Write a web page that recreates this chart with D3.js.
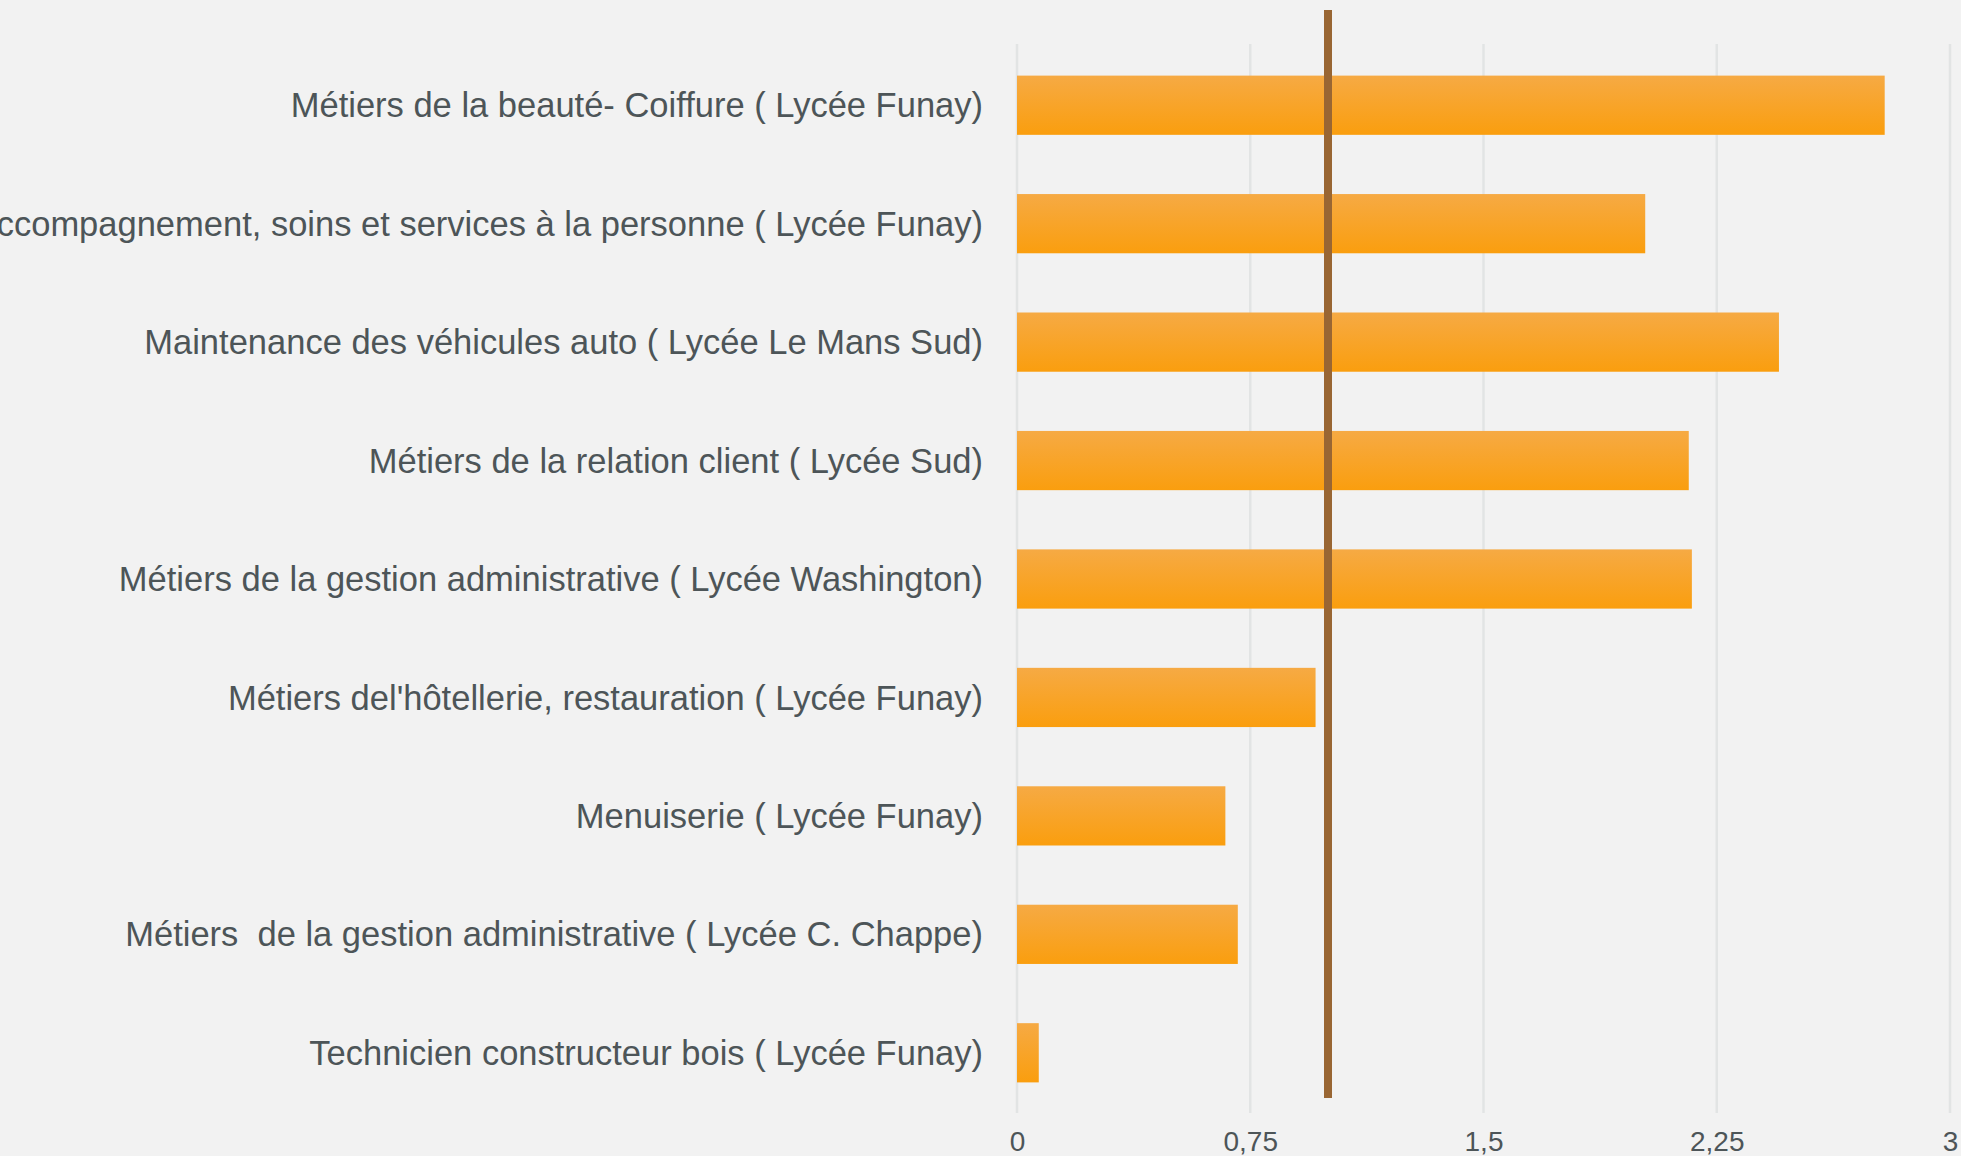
<!DOCTYPE html>
<html>
<head>
<meta charset="utf-8">
<script src="https://cdn.jsdelivr.net/npm/d3@7"></script>
<style>
  body { margin: 0; background: #f2f2f2; }
  svg { display: block; }
</style>
</head>
<body>
<div id="chart"></div>
<script>
// categories, top to bottom
var categories = [
  "Métiers de la beauté- Coiffure ( Lycée Funay)",
  "Accompagnement, soins et services à la personne ( Lycée Funay)",
  "Maintenance des véhicules auto ( Lycée Le Mans Sud)",
  "Métiers de la relation client ( Lycée Sud)",
  "Métiers de la gestion administrative ( Lycée Washington)",
  "Métiers del'hôtellerie, restauration ( Lycée Funay)",
  "Menuiserie ( Lycée Funay)",
  "Métiers  de la gestion administrative ( Lycée C. Chappe)",
  "Technicien constructeur bois ( Lycée Funay)"
]
var values = [2.79, 2.02, 2.45, 2.16, 2.17, 0.96, 0.67, 0.71, 0.07]
var tickValues = [0, 0.75, 1.5, 2.25, 3]
var tickLabels = ["0", "0,75", "1,5", "2,25", "3"]
var targetValue = 1

var width = 1961, height = 1156
var margin = {top: 44, right: 11, bottom: 43, left: 1017}

var svg = d3.select("#chart")
  .append("svg")
    .attr("width", width)
    .attr("height", height)

svg.append("rect")
  .attr("width", width)
  .attr("height", height)
  .attr("fill", "#f2f2f2")

var defs = svg.append("defs")
var grad = defs.append("linearGradient")
  .attr("id", "barGrad")
  .attr("x1", 0).attr("y1", 0).attr("x2", 0).attr("y2", 1)
grad.append("stop").attr("offset", "0%").attr("stop-color", "#f6aa44")
grad.append("stop").attr("offset", "100%").attr("stop-color", "#fa9e0e")

var x = d3.scaleLinear()
  .domain([0, 3])
  .range([margin.left, width - margin.right])

var y = d3.scaleBand()
  .domain(categories)
  .range([margin.top + 2, height - margin.bottom - 1])
  .paddingInner(0.5)
  .paddingOuter(0.25)

// grid lines
svg.append("g")
  .selectAll("line")
  .data(tickValues)
  .enter()
  .append("line")
    .attr("x1", d => x(d))
    .attr("x2", d => x(d))
    .attr("y1", margin.top)
    .attr("y2", height - margin.bottom)
    .attr("stroke", "#e2e4e4")
    .attr("stroke-width", 2.5)

// x axis labels
var xAxis = d3.axisBottom(x)
  .tickValues(tickValues)
  .tickFormat((d, i) => tickLabels[i])
  .tickSize(0)
  .tickPadding(0)

var gx = svg.append("g")
  .attr("transform", "translate(0," + (height - margin.bottom) + ")")
  .call(xAxis)
gx.select(".domain").remove()
gx.selectAll("text")
  .attr("y", 38)
  .attr("dy", 0)
  .style("font-family", "'Liberation Sans', Arial, sans-serif")
  .style("font-size", "28px")
  .attr("fill", "#4d5558")

// bars
svg.append("g")
  .selectAll("rect")
  .data(values)
  .enter()
  .append("rect")
    .attr("x", x(0))
    .attr("y", (d, i) => y(categories[i]))
    .attr("width", d => x(d) - x(0))
    .attr("height", y.bandwidth())
    .attr("fill", "url(#barGrad)")

// category labels
var yAxis = d3.axisLeft(y).tickSize(0).tickPadding(34)
var gy = svg.append("g")
  .attr("transform", "translate(" + x(0) + ",0)")
  .call(yAxis)
gy.select(".domain").remove()
gy.selectAll("text")
  .attr("dy", "0.35em")
  .style("font-family", "'Liberation Sans', Arial, sans-serif")
  .style("font-size", "34.5px")
  .style("white-space", "pre")
  .attr("fill", "#4d5558")

// target line
svg.append("line")
  .attr("x1", x(targetValue))
  .attr("x2", x(targetValue))
  .attr("y1", 10)
  .attr("y2", 1098)
  .attr("stroke", "#996633")
  .attr("stroke-width", 8)
</script>
</body>
</html>
